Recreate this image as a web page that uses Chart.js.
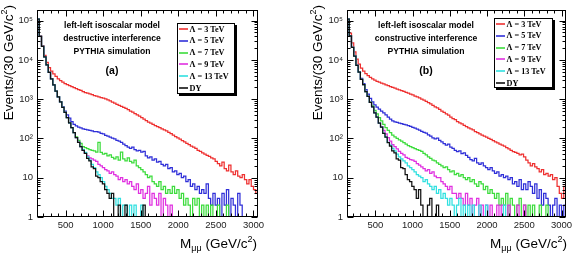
<!DOCTYPE html>
<html>
<head>
<meta charset="utf-8">
<script src="https://cdn.jsdelivr.net/npm/chart.js@4.4.0/dist/chart.umd.min.js"></script>
<style>
  body { margin: 0; background: #fff; }
  .panel { position: absolute; top: 0; width: 292px; height: 255px; }
</style>
</head>
<body>
<div class="panel" style="left:0"><canvas id="panelA" width="292" height="255"></canvas></div>
<div class="panel" style="left:292px"><canvas id="panelB" width="292" height="255"></canvas></div>
<script>
// --- DATOS (bins de 30 GeV desde 120 GeV) ---
const binStart = 120;
const binWidth = 30;
const xMin = 120;
const xMax = 3060;
const yMin = 1;
const yMax = 1.9e5;
const zeroFloor = 0.5; // bins vacios: caen por debajo del eje log y se recortan

const xTicks = [500, 1000, 1500, 2000, 2500, 3000];
const yTickValues = [1, 10, 100, 1000, 10000, 100000];
const yTickLabels = ['1', '10', '10²', '10³', '10⁴', '10⁵'];

const seriesLabels = ['Λ = 3 TeV', 'Λ = 5 TeV', 'Λ = 7 TeV', 'Λ = 9 TeV', 'Λ = 13 TeV', 'DY'];

// (a) interferencia destructiva
const lam3A = [
  110000, 41000, 23000, 13000, 8600, 6400, 5200, 4400, 3800, 3300,
  2950, 2700, 2500, 2350, 2200, 2080, 1960, 1860, 1760, 1680,
  1560, 1480, 1420, 1360, 1300, 1240, 1190, 1140, 1100, 1060,
  1020, 960, 900, 840, 790, 740, 700, 660, 620, 580,
  540, 500, 465, 430, 400, 370, 340, 310, 285, 262,
  245, 228, 212, 200, 188, 176, 165, 155, 142, 132,
  122, 112, 104, 96, 88, 82, 75, 70, 64, 60,
  56, 50, 47, 43, 40, 37, 35, 32, 30, 26,
  23, 20, 25, 17, 15, 21, 14, 12, 15, 11,
  10, 12, 9, 7, 9, 6, 5, 4
];
const lam5A = [
  110000, 40000, 22000, 12000, 7500, 4800, 3300, 2300, 1600, 1150,
  850, 650, 500, 400, 330, 270, 230, 210, 195, 185,
  175, 170, 165, 160, 155, 150, 150, 145, 135, 130,
  120, 115, 108, 102, 98, 90, 85, 80, 72, 66,
  60, 56, 60, 52, 48, 50, 45, 47, 36, 32,
  34, 28, 30, 25, 26, 22, 20, 22, 17, 18,
  14, 15, 12, 13, 10, 11, 8, 9, 6, 7,
  5, 6, 4, 5, 4, 7, 3, 2, 4, 2,
  3, 1, 4, 2, 5, 1, 3, 2, 1, 4,
  2, 1, 0, 0, 0, 0, 0, 0
];
const lam7A = [
  110000, 40000, 22000, 12000, 7500, 4800, 3300, 2300, 1600, 1150,
  850, 620, 460, 340, 250, 190, 140, 110, 90, 75,
  62, 58, 55, 52, 50, 48, 45, 80, 44, 40,
  42, 36, 38, 33, 30, 34, 28, 45, 30, 27,
  32, 26, 24, 28, 20, 18, 16, 14, 12, 10,
  11, 8, 7, 6, 8, 5, 6, 4, 5, 4,
  6, 4, 5, 3, 4, 2, 3, 2, 1, 3,
  2, 3, 1, 2, 1, 2, 0, 2, 1, 0,
  2, 1, 0, 1, 2, 0, 1, 0, 0, 0,
  0, 0, 0, 0, 0, 0, 0, 0
];
const lam9A = [
  110000, 40000, 22000, 12000, 7500, 4800, 3300, 2300, 1600, 1150,
  850, 620, 460, 340, 250, 190, 140, 105, 80, 62,
  50, 42, 36, 32, 30, 28, 26, 22, 20, 18,
  16, 15, 13, 14, 12, 11, 9, 10, 8, 9,
  7, 8, 6, 5, 7, 4, 5, 3, 4, 6,
  2, 4, 3, 2, 4, 1, 3, 2, 1, 2,
  1, 0, 1, 0, 0, 0, 0, 0, 0, 0,
  0, 0, 0, 0, 0, 0, 0, 0, 0, 0,
  0, 0, 0, 0, 0, 0, 0, 0, 0, 0,
  0, 0, 0, 0, 0, 0, 0, 0
];
const lam13A = [
  110000, 40000, 22000, 12000, 7500, 4800, 3300, 2300, 1600, 1150,
  850, 620, 460, 340, 250, 190, 140, 105, 80, 62,
  52, 44, 34, 28, 22, 18, 14, 12, 10, 8,
  6, 5, 4, 3, 3, 2, 3, 1, 2, 2,
  1, 2, 1, 2, 0, 1, 2, 0, 1, 0,
  0, 0, 0, 0, 0, 0, 0, 0, 0, 0,
  0, 0, 0, 0, 0, 0, 0, 0, 0, 0,
  0, 0, 0, 0, 0, 0, 0, 0, 0, 0,
  0, 0, 0, 0, 0, 0, 0, 0, 0, 0,
  0, 0, 0, 0, 0, 0, 0, 0
];
const dyA = [
  110000, 40000, 22000, 12000, 7500, 4800, 3300, 2300, 1600, 1150,
  850, 620, 460, 340, 250, 190, 140, 105, 80, 62,
  50, 42, 31, 27, 19, 17, 11, 10, 8, 7,
  5, 4, 3, 4, 1, 0, 2, 0, 1, 2,
  0, 0, 1, 0, 0, 0, 0, 2, 0, 0,
  0, 0, 0, 0, 0, 0, 0, 0, 0, 0,
  0, 0, 0, 0, 0, 0, 0, 0, 0, 0,
  0, 0, 0, 0, 0, 0, 0, 0, 0, 0,
  0, 0, 0, 0, 0, 0, 0, 0, 0, 0,
  0, 0, 0, 0, 0, 0, 0, 0
];

// (b) interferencia constructiva
const lam3B = [
  110000, 48000, 27000, 16000, 10500, 7800, 6200, 5200, 4500, 4000,
  3600, 3300, 3050, 2850, 2700, 2550, 2450, 2300, 2200, 2100,
  2000, 1900, 1800, 1720, 1650, 1580, 1500, 1420, 1350, 1280,
  1200, 1150, 1080, 1000, 950, 880, 820, 760, 700, 640,
  600, 550, 500, 460, 420, 390, 350, 320, 300, 270,
  250, 235, 215, 200, 185, 175, 165, 150, 140, 130,
  122, 115, 108, 100, 95, 88, 82, 77, 72, 68,
  64, 58, 54, 50, 46, 44, 42, 38, 40, 34,
  28, 24, 20, 23, 19, 17, 14, 16, 12, 13,
  11, 12, 9, 10, 6, 4, 3, 6
];
const lam5B = [
  110000, 41000, 21000, 12500, 7400, 5000, 3400, 2500, 1750, 1350,
  1050, 850, 720, 630, 560, 500, 450, 400, 350, 310,
  280, 265, 255, 245, 238, 230, 222, 212, 202, 192,
  182, 172, 162, 152, 142, 136, 124, 114, 104, 98,
  102, 90, 82, 74, 68, 72, 60, 56, 50, 46,
  48, 41, 43, 37, 33, 29, 27, 31, 24, 22,
  24, 20, 18, 16, 18, 15, 13, 14, 11, 12,
  10, 11, 9, 10, 7, 8, 6, 9, 5, 7,
  5, 8, 6, 4, 7, 3, 5, 2, 4, 3,
  2, 1, 2, 3, 1, 2, 1, 2
];
const lam7B = [
  110000, 41000, 21000, 12500, 7300, 4900, 3200, 2350, 1550, 1180,
  840, 680, 520, 420, 340, 280, 230, 190, 160, 140,
  122, 110, 100, 92, 85, 78, 72, 66, 62, 58,
  55, 52, 50, 47, 42, 38, 34, 31, 28, 27,
  24, 22, 20, 18, 19, 16, 14, 15, 12, 13,
  11, 12, 10, 9, 10, 8, 9, 7, 6, 8,
  7, 5, 6, 4, 5, 4, 3, 4, 2, 3,
  2, 4, 1, 3, 2, 1, 2, 3, 1, 2,
  0, 2, 1, 2, 0, 1, 2, 1, 0, 2,
  1, 0, 1, 0, 0, 1, 0, 0
];
const lam9B = [
  110000, 41000, 21000, 12500, 7300, 4900, 3200, 2350, 1550, 1180,
  830, 640, 450, 350, 250, 200, 160, 130, 105, 85,
  70, 62, 54, 47, 42, 38, 33, 31, 29, 28,
  26, 23, 21, 19, 17, 15, 16, 13, 14, 11,
  10, 10, 8, 7, 6, 5, 6, 4, 4, 3,
  4, 3, 2, 4, 2, 3, 1, 2, 3, 1,
  2, 1, 2, 0, 2, 1, 0, 2, 1, 2,
  0, 1, 2, 0, 1, 0, 2, 0, 1, 2,
  0, 1, 0, 0, 0, 0, 0, 0, 0, 0,
  0, 0, 0, 0, 0, 0, 0, 0
];
const lam13B = [
  110000, 41000, 21000, 12500, 7300, 4900, 3200, 2350, 1550, 1180,
  830, 640, 450, 350, 245, 195, 135, 108, 80, 68,
  56, 48, 40, 34, 30, 27, 24, 20, 18, 16,
  14, 12, 11, 10, 8, 9, 7, 6, 5, 6,
  4, 5, 3, 4, 3, 2, 3, 2, 1, 2,
  3, 1, 2, 0, 2, 1, 2, 0, 1, 2,
  0, 1, 2, 0, 1, 0, 0, 1, 0, 0,
  2, 0, 0, 0, 0, 1, 0, 0, 0, 0,
  0, 0, 0, 0, 0, 0, 0, 0, 0, 0,
  0, 0, 0, 0, 0, 0, 0, 0
];
const dyB = [
  110000, 41000, 21000, 12500, 7300, 4900, 3200, 2350, 1550, 1180,
  830, 640, 450, 350, 245, 195, 135, 108, 78, 64,
  48, 43, 30, 28, 18, 17, 12, 9, 8, 6,
  5, 3, 5, 2, 1, 0, 2, 3, 0, 1,
  2, 0, 0, 1, 0, 0, 0, 0, 0, 0,
  0, 0, 0, 0, 0, 0, 0, 0, 0, 0,
  0, 0, 0, 0, 0, 0, 0, 0, 0, 0,
  0, 0, 0, 0, 0, 0, 0, 0, 0, 0,
  0, 0, 0, 0, 0, 0, 0, 0, 0, 0,
  0, 0, 0, 0, 0, 0, 0, 0
];

// --- ESTILO ---
const colores = ['#ee3030', '#2f2fd8', '#3cdc3c', '#e030e0', '#30e0e0', '#111111'];
const ordenDibujo = [5, 4, 3, 2, 1, 0]; // DY encima de todo
const fuenteSans = '"Liberation Sans", Arial, sans-serif';
const fuenteSerif = '"Liberation Serif", "Times New Roman", serif';

// Convierte los contenidos de un histograma en puntos escalonados (bordes de bin)
function puntosHistograma(valores) {
  const pts = valores.map((v, i) => ({ x: binStart + i * binWidth, y: v > 0 ? v : zeroFloor }));
  const ultimo = valores[valores.length - 1];
  pts.push({ x: binStart + valores.length * binWidth, y: ultimo > 0 ? ultimo : zeroFloor });
  return pts;
}

// Ancho de un titulo con un "2" en superindice
function anchoTitulo(ctx, antes, sup, despues, fuerte, chico) {
  ctx.font = fuerte;
  let w = ctx.measureText(antes).width + ctx.measureText(despues).width;
  ctx.font = chico;
  return w + ctx.measureText(sup).width;
}

// --- PLUGIN: marco y marcas de los ejes al estilo ROOT ---
const marcoRoot = {
  id: 'marcoRoot',
  afterDatasetsDraw(chart) {
    const { ctx, chartArea: a, scales: { x, y } } = chart;
    const L = Math.round(a.left) + 0.5, R = Math.round(a.right) - 0.5;
    const T = Math.round(a.top) + 0.5, B = Math.round(a.bottom) - 0.5;
    ctx.save();
    ctx.strokeStyle = '#000';
    ctx.lineWidth = 1;
    ctx.beginPath();
    // eje x: menores cada 100, mayores cada 500
    for (let v = 200; v < xMax; v += 100) {
      const px = Math.round(x.getPixelForValue(v)) + 0.5;
      const len = v % 500 === 0 ? 6 : 3;
      ctx.moveTo(px, B); ctx.lineTo(px, B - len);
      ctx.moveTo(px, T); ctx.lineTo(px, T + len);
    }
    // eje y logaritmico: decadas y 2..9
    for (let d = 0; d <= 5; d++) {
      for (let m = 1; m <= 9; m++) {
        const v = m * Math.pow(10, d);
        if (v > yMax) break;
        const py = Math.round(y.getPixelForValue(v)) + 0.5;
        const len = m === 1 ? 6 : 3;
        ctx.moveTo(L, py); ctx.lineTo(L + len, py);
        ctx.moveTo(R, py); ctx.lineTo(R - len, py);
      }
    }
    ctx.stroke();
    ctx.strokeRect(L, T, R - L, B - T);
    ctx.restore();
  }
};

// --- PLUGIN: titulos, textos y leyenda ---
const textosRoot = {
  id: 'textosRoot',
  afterDraw(chart, args, opts) {
    const { ctx } = chart;
    const fuerte = '13.5px ' + fuenteSans;
    const chico = '9px ' + fuenteSans;
    ctx.save();
    ctx.fillStyle = '#000';
    ctx.textBaseline = 'alphabetic';

    // titulo del eje y (rotado, alineado arriba)
    const antesY = 'Events/(30 GeV/c', despuesY = ')';
    const wY = anchoTitulo(ctx, antesY, '2', despuesY, fuerte, chico);
    ctx.save();
    ctx.translate(opts.tituloY, 5);
    ctx.rotate(-Math.PI / 2);
    let cx = -wY;
    ctx.font = fuerte; ctx.fillText(antesY, cx, 5); cx += ctx.measureText(antesY).width;
    ctx.font = chico; ctx.fillText('2', cx, -1); cx += ctx.measureText('2').width;
    ctx.font = fuerte; ctx.fillText(despuesY, cx, 5);
    ctx.restore();

    // titulo del eje x: M_{mu mu} (GeV/c^2), alineado a la derecha
    ctx.font = fuerte;
    const wM = ctx.measureText('M').width;
    const wP1 = ctx.measureText(' (GeV/c').width;
    const wP2 = ctx.measureText(')').width;
    ctx.font = chico;
    const wMu = ctx.measureText('μμ').width;
    const wSup = ctx.measureText('2').width;
    let px = opts.tituloX - (wM + wMu + wP1 + wSup + wP2);
    const base = 248;
    ctx.font = fuerte; ctx.fillText('M', px, base); px += wM;
    ctx.font = chico; ctx.fillText('μμ', px, base + 3); px += wMu;
    ctx.font = fuerte; ctx.fillText(' (GeV/c', px, base); px += wP1;
    ctx.font = chico; ctx.fillText('2', px, base - 6); px += wSup;
    ctx.font = fuerte; ctx.fillText(')', px, base);

    // textos de la simulacion
    ctx.textAlign = 'center';
    ctx.textBaseline = 'middle';
    ctx.font = 'bold 8.6px ' + fuenteSans;
    opts.lineas.forEach((t, i) => ctx.fillText(t, opts.textoX, [26, 38.5, 52][i]));
    ctx.font = 'bold 10.5px ' + fuenteSans;
    ctx.fillText(opts.etiqueta, opts.textoX, 71);

    // leyenda con sombra
    const lg = opts.leyenda;
    ctx.fillStyle = '#000';
    ctx.fillRect(lg.x + 2, lg.y + 2, lg.w, lg.h);
    ctx.fillStyle = '#fff';
    ctx.fillRect(lg.x, lg.y, lg.w, lg.h);
    ctx.strokeStyle = '#000';
    ctx.lineWidth = 1;
    ctx.strokeRect(lg.x + 0.5, lg.y + 0.5, lg.w - 1, lg.h - 1);
    ctx.textAlign = 'left';
    ctx.font = 'bold 8.2px ' + fuenteSerif;
    chart.data.datasets.forEach((ds, i) => {
      const cyy = lg.y + 6 + i * 11.8;
      ctx.strokeStyle = ds.borderColor;
      ctx.lineWidth = 1.6;
      ctx.beginPath();
      ctx.moveTo(lg.x + 2, Math.round(cyy));
      ctx.lineTo(lg.x + 11, Math.round(cyy));
      ctx.stroke();
      ctx.fillStyle = '#000';
      ctx.fillText(ds.label, lg.x + 12.5, cyy + 0.5);
    });
    ctx.restore();
  }
};

// --- CREACION DE CADA PANEL ---
function crearPanel(cfg) {
  const canvas = document.getElementById(cfg.id);
  if (!canvas) return;

  new Chart(canvas, {
    type: 'line',
    data: {
      datasets: cfg.series.map((valores, i) => ({
        label: seriesLabels[i],
        data: puntosHistograma(valores),
        borderColor: colores[i],
        borderWidth: 1.25,
        stepped: true,
        pointRadius: 0,
        fill: false,
        clip: 0,
        order: ordenDibujo[i]
      }))
    },
    options: {
      responsive: false,
      animation: false,
      devicePixelRatio: 1,
      layout: { padding: { top: 6, right: cfg.derecha, left: 0, bottom: 0 } },
      scales: {
        x: {
          type: 'linear',
          min: xMin,
          max: xMax,
          grid: { display: false, drawTicks: false },
          border: { display: false },
          afterBuildTicks: s => { s.ticks = xTicks.map(v => ({ value: v })); },
          afterFit: s => { s.height = 38; },
          ticks: {
            autoSkip: false,
            maxRotation: 0,
            padding: 3,
            color: '#222',
            font: { family: fuenteSans, size: 9.5 },
            callback: v => String(v)
          }
        },
        y: {
          type: 'logarithmic',
          min: yMin,
          max: yMax,
          grid: { display: false, drawTicks: false },
          border: { display: false },
          afterBuildTicks: s => { s.ticks = yTickValues.map(v => ({ value: v })); },
          afterFit: s => { s.width = cfg.ejeY; },
          ticks: {
            padding: 4,
            color: '#222',
            font: { family: fuenteSans, size: 9.5 },
            callback: v => yTickLabels[yTickValues.indexOf(v)]
          }
        }
      },
      plugins: {
        legend: { display: false },
        tooltip: { enabled: false },
        textosRoot: {
          tituloY: cfg.tituloY,
          tituloX: cfg.tituloX,
          textoX: cfg.textoX,
          etiqueta: cfg.etiqueta,
          lineas: ['left-left isoscalar model', cfg.interferencia, 'PYTHIA simulation'],
          leyenda: cfg.leyenda
        }
      }
    },
    plugins: [marcoRoot, textosRoot]
  });
}

document.addEventListener('DOMContentLoaded', function() {
  crearPanel({
    id: 'panelA', etiqueta: '(a)', interferencia: 'destructive interference',
    series: [lam3A, lam5A, lam7A, lam9A, lam13A, dyA],
    ejeY: 37, derecha: 34, tituloY: 8, tituloX: 257, textoX: 112,
    leyenda: { x: 177, y: 23, w: 58, h: 71 }
  });
  crearPanel({
    id: 'panelB', etiqueta: '(b)', interferencia: 'constructive interference',
    series: [lam3B, lam5B, lam7B, lam9B, lam13B, dyB],
    ejeY: 55, derecha: 18, tituloY: 25, tituloX: 275, textoX: 134,
    leyenda: { x: 202, y: 18, w: 59, h: 70 }
  });
});
</script>
</body>
</html>
